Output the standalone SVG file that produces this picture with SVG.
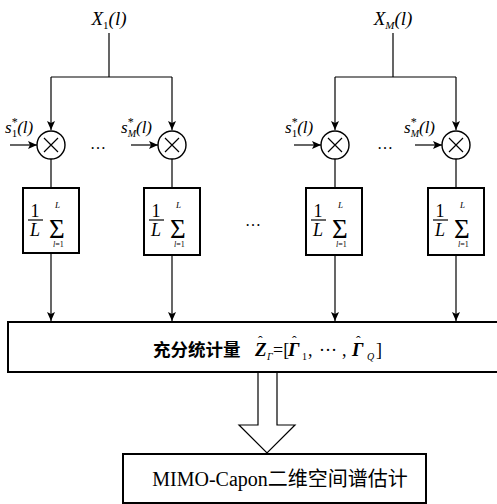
<svg xmlns="http://www.w3.org/2000/svg" width="497" height="504" viewBox="0 0 497 504">
<defs>
<marker id="ah" markerWidth="10" markerHeight="10" refX="9" refY="4" orient="auto" markerUnits="userSpaceOnUse">
<path d="M0,0 L9,4 L0,8 L2,4 Z" fill="#000"/>
</marker>
<style>
.ln{stroke:#000;stroke-width:1.2;fill:none}
.box{stroke:#000;stroke-width:2;fill:#fff}
.m{font-family:"Liberation Serif",serif;font-style:italic;fill:#000}
.r{font-family:"Liberation Serif",serif;fill:#000}
.it{font-style:italic}
.up{font-style:normal}
.bi{font-style:italic;font-weight:bold}
.cjk{font-family:"Liberation Serif","Noto Sans CJK SC",serif;fill:#000}
</style>
</defs>
<rect width="497" height="504" fill="#fff"/>
<g id="connectors">
<path class="ln" d="M109,33 V77 M51,77 H172 M335,77 H456 M393,33 V77"/>
<path class="ln" d="M51,77 V130" marker-end="url(#ah)"/>
<path class="ln" d="M172,77 V130" marker-end="url(#ah)"/>
<path class="ln" d="M335,77 V130" marker-end="url(#ah)"/>
<path class="ln" d="M456,77 V130" marker-end="url(#ah)"/>
<path class="ln" d="M10,145 H37" marker-end="url(#ah)"/>
<path class="ln" d="M131,145 H158" marker-end="url(#ah)"/>
<path class="ln" d="M294,145 H321" marker-end="url(#ah)"/>
<path class="ln" d="M415,145 H442" marker-end="url(#ah)"/>
<path class="ln" d="M51,159 V188 M172,159 V188 M335,159 V188 M456,159 V188"/>
<path class="ln" d="M51,253 V321" marker-end="url(#ah)"/>
<path class="ln" d="M172,255 V321" marker-end="url(#ah)"/>
<path class="ln" d="M335,255 V321" marker-end="url(#ah)"/>
<path class="ln" d="M456,255 V321" marker-end="url(#ah)"/>
<polygon points="258,372 277,372 277,425 295,425 267,453 239,425 258,425" fill="#fff" stroke="#000" stroke-width="1.2"/>
</g>
<g id="input1"><text class="m" x="109" y="25" font-size="19" text-anchor="middle">X<tspan font-size="11" font-style="normal" dy="4">1</tspan><tspan dy="-4">(l)</tspan></text></g>
<g id="inputM"><text class="m" x="393" y="25" font-size="19" text-anchor="middle">X<tspan font-size="11" dy="4">M</tspan><tspan dy="-4">(l)</tspan></text></g>
<g id="mul1"><circle cx="51" cy="145" r="14" fill="#fff" stroke="#000" stroke-width="1.4"/><path class="ln" d="M44,138 L58,152 M58,138 L44,152"/>
<text class="m" x="5" y="133" font-size="17">s<tspan font-size="12" font-style="normal" dy="-7">*</tspan><tspan font-size="11" font-style="normal" dx="-6" dy="11">1</tspan><tspan dy="-4">(l)</tspan></text></g>
<g id="mul2"><circle cx="172" cy="145" r="14" fill="#fff" stroke="#000" stroke-width="1.4"/><path class="ln" d="M165,138 L179,152 M179,138 L165,152"/>
<text class="m" x="121" y="133" font-size="17">s<tspan font-size="12" font-style="normal" dy="-7">*</tspan><tspan font-size="10" dx="-6" dy="11">M</tspan><tspan dy="-4">(l)</tspan></text></g>
<g id="mul3"><circle cx="335" cy="145" r="14" fill="#fff" stroke="#000" stroke-width="1.4"/><path class="ln" d="M328,138 L342,152 M342,138 L328,152"/>
<text class="m" x="285" y="133" font-size="17">s<tspan font-size="12" font-style="normal" dy="-7">*</tspan><tspan font-size="11" font-style="normal" dx="-6" dy="11">1</tspan><tspan dy="-4">(l)</tspan></text></g>
<g id="mul4"><circle cx="456" cy="145" r="14" fill="#fff" stroke="#000" stroke-width="1.4"/><path class="ln" d="M449,138 L463,152 M463,138 L449,152"/>
<text class="m" x="404" y="133" font-size="17">s<tspan font-size="12" font-style="normal" dy="-7">*</tspan><tspan font-size="10" dx="-6" dy="11">M</tspan><tspan dy="-4">(l)</tspan></text></g>
<g id="dots"><text class="r" x="98" y="149" font-size="16" text-anchor="middle">…</text><text class="r" x="385" y="149" font-size="16" text-anchor="middle">…</text><text class="r" x="253" y="226" font-size="16" text-anchor="middle">…</text></g>
<g id="sum1"><rect class="box" x="23" y="188" width="56" height="65" stroke-width="1.6"/><path class="ln" d="M28,220 H43"/>
<text class="r" font-size="18"><tspan x="30.5" y="217">1</tspan><tspan class="it" x="30" y="236">L</tspan><tspan font-size="27" x="49" y="238">Σ</tspan><tspan class="it" font-size="9" x="55" y="208">L</tspan><tspan class="it" font-size="8" x="53" y="247">l</tspan><tspan font-size="8">=1</tspan></text></g>
<g id="sum2"><rect class="box" x="144" y="188" width="56" height="67"/><path class="ln" d="M149,220 H164"/>
<text class="r" font-size="18"><tspan x="151.5" y="217">1</tspan><tspan class="it" x="151" y="236">L</tspan><tspan font-size="27" x="170" y="238">Σ</tspan><tspan class="it" font-size="9" x="176" y="208">L</tspan><tspan class="it" font-size="8" x="174" y="247">l</tspan><tspan font-size="8">=1</tspan></text></g>
<g id="sum3"><rect class="box" x="306" y="188" width="56" height="67"/><path class="ln" d="M311,220 H326"/>
<text class="r" font-size="18"><tspan x="313.5" y="217">1</tspan><tspan class="it" x="313" y="236">L</tspan><tspan font-size="27" x="332" y="238">Σ</tspan><tspan class="it" font-size="9" x="338" y="208">L</tspan><tspan class="it" font-size="8" x="336" y="247">l</tspan><tspan font-size="8">=1</tspan></text></g>
<g id="sum4"><rect class="box" x="428" y="188" width="56" height="67"/><path class="ln" d="M433,220 H448"/>
<text class="r" font-size="18"><tspan x="435.5" y="217">1</tspan><tspan class="it" x="435" y="236">L</tspan><tspan font-size="27" x="454" y="238">Σ</tspan><tspan class="it" font-size="9" x="460" y="208">L</tspan><tspan class="it" font-size="8" x="458" y="247">l</tspan><tspan font-size="8">=1</tspan></text></g>
<g id="stats"><rect class="box" x="8" y="322" width="492" height="50"/>
<text class="cjk" x="153" y="356" font-size="17.5" font-weight="bold">充分统计量</text>
<text class="r" font-size="18"><tspan class="bi" font-size="19" x="255" y="356">Z</tspan><tspan font-size="14" x="258" y="346">ˆ</tspan><tspan class="it" font-size="10" x="267" y="360">Γ</tspan><tspan x="273" y="356">=[</tspan><tspan class="bi" font-size="19" x="288" y="356">Γ</tspan><tspan font-size="14" x="292" y="346">ˆ</tspan><tspan font-size="10" x="302" y="360">1</tspan><tspan x="308" y="356">,</tspan><tspan x="319" y="351">…</tspan><tspan x="342" y="356">,</tspan><tspan class="bi" font-size="19" x="352" y="356">Γ</tspan><tspan font-size="14" x="356" y="346">ˆ</tspan><tspan class="it" font-size="10" x="367" y="360">Q</tspan><tspan x="376" y="356">]</tspan></text></g>
<g id="capon"><rect class="box" x="123" y="454" width="303" height="49"/>
<text class="cjk" x="280" y="486" font-size="20" text-anchor="middle">MIMO-Capon二维空间谱估计</text></g>
</svg>
